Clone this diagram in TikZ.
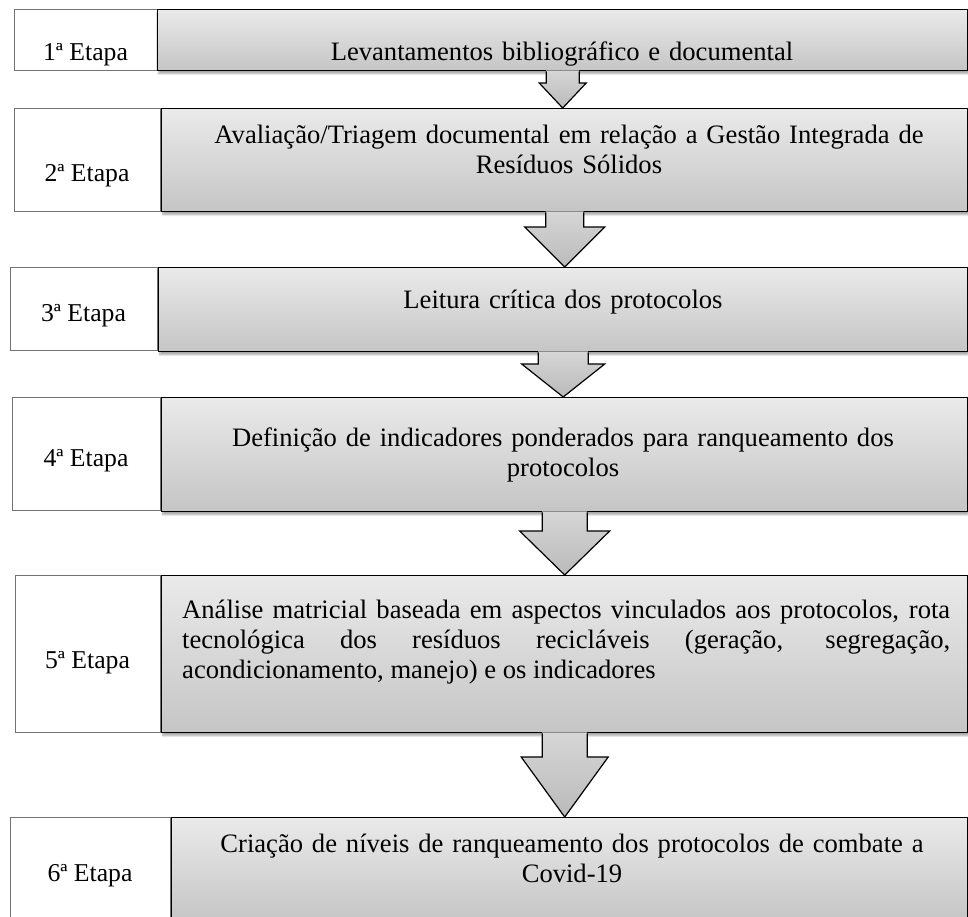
\documentclass[tikz,border=0pt]{standalone}
\usepackage{fontspec}
\setmainfont{Liberation Serif}
\usetikzlibrary{calc,shadows.blur}
\definecolor{cinzaA}{RGB}{234,234,234}
\definecolor{cinzaB}{RGB}{197,197,197}
\definecolor{setaA}{RGB}{214,214,214}
\definecolor{setaB}{RGB}{186,186,186}
\tikzset{
  etapa/.style={draw=black!55, line width=0.7pt, fill=white, anchor=north west, inner sep=0pt},
  caixa/.style={draw=black, line width=1.4pt, top color=cinzaA, bottom color=cinzaB, anchor=north west, inner sep=0pt,
    blur shadow={shadow xshift=1pt, shadow yshift=-3pt, shadow blur steps=6, shadow opacity=35}},
  rotulo/.style={font=\fontsize{25.7}{30}\selectfont, anchor=base, inner sep=0pt},
  texto/.style={font=\fontsize{26.6}{30}\selectfont, anchor=base, inner sep=0pt, text width=#1pt, align=center},
  setafundo/.style={top color=setaA, bottom color=setaB},
  setaborda/.style={draw=black, line width=1.2pt, line join=miter}
}
% #1 caixa de cima, #2 caixa de baixo, #3 meia largura da haste, #4 meia largura da ponta, #5 altura da ponta
\newcommand{\setabloco}[5]{%
  \path[setafundo] ($(#1.south)+(-#3,-1)$) -- ($(#1.south |- #2.north)+(-#3,-#5)$) -- ($(#1.south |- #2.north)+(-#4,-#5)$)
    -- (#1.south |- #2.north) -- ($(#1.south |- #2.north)+(#4,-#5)$) -- ($(#1.south |- #2.north)+(#3,-#5)$)
    -- ($(#1.south)+(#3,-1)$) -- cycle;
  \draw[setaborda] ($(#1.south)+(-#3,0)$) -- ($(#1.south |- #2.north)+(-#3,-#5)$) -- ($(#1.south |- #2.north)+(-#4,-#5)$)
    -- (#1.south |- #2.north) -- ($(#1.south |- #2.north)+(#4,-#5)$) -- ($(#1.south |- #2.north)+(#3,-#5)$)
    -- ($(#1.south)+(#3,0)$);
}
\begin{document}
\begin{tikzpicture}[x=1pt, y=-1pt]
  \useasboundingbox (0,0) rectangle (968,916);
  \node[etapa, minimum width=143pt, minimum height=61pt] (e1) at (14,9) {};
  \node[caixa, minimum width=810pt, minimum height=61pt] (m1) at (157,9) {};
  \node[etapa, minimum width=146pt, minimum height=103pt] (e2) at (14,108) {};
  \node[caixa, minimum width=806pt, minimum height=103pt] (m2) at (161,108) {};
  \node[etapa, minimum width=147pt, minimum height=83pt] (e3) at (10,267) {};
  \node[caixa, minimum width=809pt, minimum height=84pt] (m3) at (158,267) {};
  \node[etapa, minimum width=148pt, minimum height=113pt] (e4) at (12,397) {};
  \node[caixa, minimum width=806pt, minimum height=114pt] (m4) at (161,397) {};
  \node[etapa, minimum width=145pt, minimum height=157pt] (e5) at (15,575) {};
  \node[caixa, minimum width=806pt, minimum height=157pt] (m5) at (161,575) {};
  \node[etapa, minimum width=160pt, minimum height=104pt] (e6) at (10,817) {};
  \node[caixa, minimum width=796pt, minimum height=104pt] (m6) at (171,817) {};

  \setabloco{m1}{m2}{16.5}{23.5}{25}
  \setabloco{m2}{m3}{19}{40}{40}
  \setabloco{m3}{m4}{25}{41.5}{33}
  \setabloco{m4}{m5}{22.5}{45}{44}
  \setabloco{m5}{m6}{22.5}{43.5}{60}

  \node[rotulo] (l1) at (85.5,60) {1ª Etapa};
  \node[rotulo] (l2) at (87,181) {2ª Etapa};
  \node[rotulo] (l3) at (83.5,321) {3ª Etapa};
  \node[rotulo] (l4) at (86,466) {4ª Etapa};
  \node[rotulo] (l5) at (87.5,668) {5ª Etapa};
  \node[rotulo] (l6) at (90,881) {6ª Etapa};

  \node[texto=790] (t1) at (562,60) {Levantamentos bibliográfico e documental};
  \node[texto=790] (t2) at (569,143) {Avaliação/Triagem documental em relação a Gestão Integrada de\\Resíduos Sólidos};
  \node[texto=790] (t3) at (563,308) {Leitura crítica dos protocolos};
  \node[texto=790] (t4) at (563,446) {Definição de indicadores ponderados para ranqueamento dos\\protocolos};
  \node[texto=768, align=justify, anchor=base west] (t5) at (182,618) {Análise matricial baseada em aspectos vinculados aos protocolos, rota\linebreak tecnológica dos resíduos recicláveis (geração, segregação,\linebreak acondicionamento, manejo) e os indicadores};
  \node[texto=780] (t6) at (572,852) {Criação de níveis de ranqueamento dos protocolos de combate a\\Covid-19};
\end{tikzpicture}
\end{document}
